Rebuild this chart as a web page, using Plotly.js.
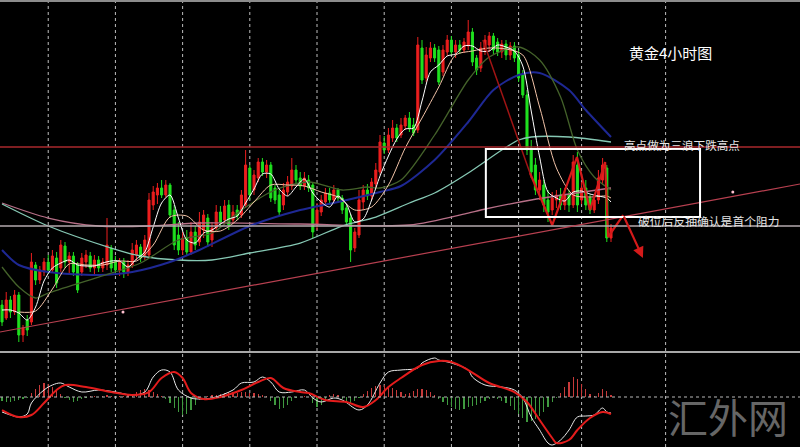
<!DOCTYPE html>
<html><head><meta charset="utf-8">
<script src="https://cdn.plot.ly/plotly-3.0.1.min.js"></script>
<style>html,body{margin:0;padding:0;background:#000;}#chart{width:800px;height:447px;}</style>
</head><body><div id="chart"></div>
<script>
// ---- candle data (price units, arbitrary offset) ----
const openP  = [45,32,50,38,55,15,30,28,85,70,78,88,80,92,82,104,88,94,85,78,88,94,82,90,82,85,102,88,80,88,78,85,95,103,94,95,145,155,162,155,165,140,115,100,112,98,118,108,120,132,110,122,138,130,145,130,140,135,145,182,160,172,188,178,185,162,155,145,158,164,180,172,164,170,165,125,138,148,157,150,160,152,142,132,102,115,148,160,154,166,178,207,200,212,222,215,224,232,225,220,302,272,292,302,300,278,298,310,298,305,300,304,318,292,282,300,305,314,308,298,306,295,304,295,275,255,202,185,160,165,150,140,150,155,145,155,145,185,150,162,152,140,150,170,182,112];
const highP  = [50,58,54,60,58,25,35,97,88,84,92,95,100,98,110,108,98,98,88,97,100,98,95,94,92,132,105,94,92,92,90,107,110,106,115,157,164,167,170,170,167,145,128,118,120,128,124,138,140,136,128,145,144,150,150,145,145,160,200,185,180,192,192,190,188,165,160,167,174,192,185,178,178,175,168,147,155,162,162,165,162,155,146,136,122,160,165,166,172,187,215,214,222,230,226,232,235,238,232,313,310,303,308,306,304,305,315,314,310,310,312,330,322,295,308,315,318,317,312,310,310,308,308,300,280,260,210,192,178,170,160,158,160,162,162,160,195,198,168,170,155,155,180,192,185,126];
const lowP   = [24,30,32,35,8,8,14,25,65,66,74,76,77,62,78,82,75,74,57,74,82,78,76,78,78,80,78,75,74,72,74,82,90,88,90,92,140,146,152,152,132,100,95,95,94,95,100,104,112,103,103,118,124,126,120,126,130,132,142,150,155,168,174,172,148,146,135,140,154,160,166,160,160,158,112,120,134,144,145,146,147,136,124,88,98,112,140,150,150,162,175,196,197,208,208,212,220,218,214,217,266,268,288,288,265,274,294,295,292,296,297,300,284,275,278,295,298,296,294,292,290,290,288,268,252,195,172,155,150,138,128,135,142,140,140,138,142,138,146,140,136,137,146,165,108,108];
const closeP = [28,50,38,55,15,22,20,88,70,80,88,80,94,67,105,88,94,78,60,92,95,82,90,82,88,105,82,80,88,78,85,100,105,92,110,150,158,162,155,165,135,105,100,112,98,118,105,128,135,108,122,138,128,144,125,138,134,155,185,155,175,188,178,185,152,150,138,160,168,180,170,164,172,162,118,140,150,157,150,160,152,140,128,100,118,150,160,154,168,180,208,200,215,222,212,225,232,222,217,305,270,295,302,292,268,300,310,298,305,300,308,318,288,280,302,310,314,300,298,306,295,304,292,272,255,200,178,160,170,145,138,152,155,145,155,145,188,145,162,145,140,150,172,185,112,122];

// ---- moving averages: [bar index, value] ----
const maWhiteIdx = [0,2,4,6,8,10,12,14,16,18,20,22,24,26,28,30,32,34,36,38,40,42,44,46,48,50,52,54,56,58,60,62,64,66,68,70,72,74,76,78,80,82,84,86,88,90,92,94,96,98,100,102,104,106,108,110,112,114,116,118,120,122,124,126,128,130,132,134,136,138,140,142,144,145];
const maWhiteVal = [40,40,37,30,43,69,82,87,90,85,84,84,87,89,89,83,91,98,123,147,155,132,110,107,117,120,126,131,134,147,161,176,176,161,154,163,171,157,148,143,154,146,128,131,150,174,194,211,221,222,249,278,285,294,296,304,304,299,299,305,303,299,284,239,193,158,152,149,158,159,156,154,152,148];
const maPeachIdx = [4,8,12,16,20,24,28,32,36,40,44,48,52,56,60,64,68,72,76,80,84,88,92,96,100,104,108,112,116,120,124,128,132,136,140,144,145];
const maPeachVal = [38,39,61,86,85,85,89,89,105,133,134,120,119,130,148,165,165,164,158,153,140,143,165,202,232,263,295,299,302,301,295,243,182,155,153,154,152];
const maOliveIdx = [0,4,8,11,23,33,42,50,57,65,73,81,87,90,95,103,111,116,123,128,133,137,141,145];
const maOliveVal = [83,63,52,57,73,87,110,117,140,160,168,160,163,162,170,215,270,293,303,290,253,200,173,160];
const maBlueIdx  = [0,4,11,23,31,40,47,59,71,80,90,95,103,111,117,123,128,135,139,145];
const maBlueVal  = [100,85,78,75,78,88,100,124,140,148,158,164,190,228,260,275,277,260,240,213];
const maTealIdx  = [0,11,26,33,42,50,59,71,81,89,97,103,111,119,123,126,135,145];
const maTealVal  = [146,124,102,94,90,90,97,107,124,133,147,157,177,200,210,213,213,208];
const maMauveIdx = [0,11,23,35,47,71,97,111,114,126,145];
const maMauveVal = [147,132,124,124,127,126,125,137,140,150,162];

// ---- MACD panel ----
const macdIdx = [0,2,4,6,7,10,12,14,16,19,23,27,31,34,36,38,40,42,45,47,50,55,57,60,62,64,66,69,72,74,76,79,81,85,87,90,92,95,99,100,103,104,107,111,112,115,119,122,124,126,128,130,131,133,135,137,139,141,143,144,145];
const macdVal = [-15,-18,-20,-17,-6,7,12,14,10,5,7,5,2,5,20,27,25,7,-1,-2,-1,7,14,15,20,15,5,5,7,-1,-5,-1,-3,-13,-8,14,25,27,29,34,39,37,34,27,20,12,10,7,-1,-20,-33,-46,-48,-43,-33,-20,-19,-18,-11,-15,-16];
const signalIdx = [0,4,7,10,13,15,20,26,31,35,38,41,43,45,48,52,57,61,64,67,71,73,77,82,86,89,92,95,100,104,107,111,116,122,125,128,131,132,135,137,140,143,145];
const signalVal = [-13,-20,-18,-6,7,12,10,5,2,5,19,25,19,4,-2,0,7,15,19,9,5,4,-3,-5,-10,-3,10,19,32,36,35,27,14,5,-5,-23,-41,-46,-43,-33,-21,-15,-17];
const histVal = [-4,-5,-5,-4,-3,-2,-1, 4,8,12,14,13,10,6,3, -1,-3,-5,-4,-2,-1, 1,1,0,1,2,1,0,1,1,2, 3,5,7,8,7,5,3, 1,-2,-6,-11,-15,-18,-17,-13,-8,-3, 0,1,2,2,3,4,5,5,4, 5,5,4,4,3,2,1, -4,-8,-12,-11,-8,-4, -1,0,1,0, -6,-10,-8,-4, 2,3,2, -2,-5,-6,-4,-1, 3,6,9,11,12,12,11,9,7,5, 3,4,6,8,8,7,5,2, -2,-5,-8,-10,-12,-13,-12,-10,-9,-8,-6,-4,-2, -1,-2,-4, -6,-9,-13,-17,-21,-25,-24,-22,-19,-15,-10,-5,-1, 4,10,15,20,18,13,8,3, 1,4,8,6,2];

// ---- drawn annotations (bar index / price) ----
const gridIdx = [11,27,43,59,75,91,107,123,138,158];
const resistLevel = 203;      // red horizontal line
const supportLevel = 124;     // grey horizontal line
const trendIdx = [-0.48,190], trendVal = [18,166];
const trendDotIdx = [28.8,174], trendDotVal = [38,158];
const boxIdx = [115.2,166.2], boxVal = [133,201];
const fallIdx = [114.5,125.7], fallVal = [310,177];
const zigIdx = [125.7,131,136.9,140,143.6,144.3,147.9], zigVal = [177,125,193,140,188,113,135];
const arrowEnd = [152.6,92];
const labelTitle = '黄金4小时图';
const labelHigh = '高点做为三浪下跌高点';
const labelBreak = '破位后反抽确认是首个阻力';
const watermark = '汇外网';

const idx = closeP.map((_, i) => i);
const RED = '#ec1e1e', GREEN = '#1fe01f';

function maLine(x, y, color, w) {
  return {type:'scatter', mode:'lines', x:x, y:y, line:{color:color, width:w, shape:'spline', smoothing:0.8}, hoverinfo:'skip'};
}

const traces = [
  maLine(maMauveIdx, maMauveVal, '#b87088', 1.3),
  maLine(maTealIdx, maTealVal, '#86c8b4', 1.3),
  maLine(maBlueIdx, maBlueVal, '#1e2894', 2),
  maLine(maOliveIdx, maOliveVal, '#44622a', 1.3),
  {type:'candlestick', x:idx, open:openP, high:highP, low:lowP, close:closeP,
   increasing:{line:{color:RED, width:1}, fillcolor:RED},
   decreasing:{line:{color:GREEN, width:1}, fillcolor:GREEN},
   whiskerwidth:0, hoverinfo:'skip'},
  maLine(maPeachIdx, maPeachVal, '#f2c3a8', 1),
  maLine(maWhiteIdx, maWhiteVal, '#ffffff', 1),
  {type:'scatter', mode:'lines', x:fallIdx, y:fallVal, line:{color:'#a01414', width:1.5}, hoverinfo:'skip'},
  {type:'scatter', mode:'lines', x:zigIdx, y:zigVal, line:{color:'#d41a1a', width:2.2}, hoverinfo:'skip'},
  {type:'scatter', mode:'markers', x:trendDotIdx, y:trendDotVal, marker:{color:'#ffc0d0', size:3}, hoverinfo:'skip'},
  {type:'bar', x:idx, y:histVal, yaxis:'y2', width:0.3,
   marker:{color:histVal.map(v => v >= 0 ? '#c83a3a' : '#3f9a3f'), line:{width:0}}, hoverinfo:'skip'},
  {type:'scatter', mode:'lines', x:macdIdx, y:macdVal, yaxis:'y2', line:{color:'#e8e8e8', width:1, shape:'spline'}, hoverinfo:'skip'},
  {type:'scatter', mode:'lines', x:signalIdx, y:signalVal, yaxis:'y2', line:{color:'#e41c1c', width:2, shape:'spline'}, hoverinfo:'skip'}
];

const shapes = [];
gridIdx.forEach(g => shapes.push({type:'line', xref:'x', yref:'paper', x0:g, x1:g, y0:0, y1:1,
  line:{color:'#bdbdbd', width:1, dash:'dot'}, layer:'below'}));
shapes.push({type:'line', xref:'paper', yref:'y', x0:0, x1:1, y0:resistLevel, y1:resistLevel, line:{color:'#a8282c', width:1.5}});
shapes.push({type:'line', xref:'paper', yref:'y', x0:0, x1:1, y0:supportLevel, y1:supportLevel, line:{color:'#b5aaae', width:1.5}});
shapes.push({type:'line', xref:'x', yref:'y', x0:trendIdx[0], x1:trendIdx[1], y0:trendVal[0], y1:trendVal[1], line:{color:'#b84050', width:1.2}});
shapes.push({type:'rect', xref:'x', yref:'y', x0:boxIdx[0], x1:boxIdx[1], y0:boxVal[0], y1:boxVal[1], line:{color:'#ffffff', width:2}});
shapes.push({type:'line', xref:'paper', yref:'paper', x0:0, x1:1, y0:0.998, y1:0.998, line:{color:'#8c8c8c', width:2}});
shapes.push({type:'line', xref:'paper', yref:'paper', x0:0, x1:1, y0:0.2125, y1:0.2125, line:{color:'#a8a8a8', width:2}});
shapes.push({type:'line', xref:'paper', yref:'y2', x0:0, x1:1, y0:0, y1:0, line:{color:'#b8b8b8', width:1, dash:'dot'}});

const FONT = '"Noto Sans CJK SC", "Noto Sans", sans-serif';
const annotations = [
  {xref:'x', yref:'y', x:148.8, y:298, text:labelTitle, showarrow:false, xanchor:'left', yanchor:'middle',
   font:{family:FONT, size:15, color:'#ffffff'}},
  {xref:'x', yref:'y', x:147.6, y:205, text:labelHigh, showarrow:false, xanchor:'left', yanchor:'middle',
   font:{family:FONT, size:11.6, color:'#e6e6e6'}},
  {xref:'x', yref:'y', x:151, y:130, text:labelBreak, showarrow:false, xanchor:'left', yanchor:'middle',
   font:{family:FONT, size:11.8, color:'#e6e6e6'}},
  {xref:'x', yref:'y', axref:'x', ayref:'y', x:arrowEnd[0], y:arrowEnd[1], ax:zigIdx[zigIdx.length-1], ay:zigVal[zigVal.length-1],
   text:'', showarrow:true, arrowhead:2, arrowsize:1, arrowwidth:2.2, arrowcolor:'#d41a1a'},
  {xref:'paper', yref:'paper', x:0.988, y:0.0, text:watermark, showarrow:false, xanchor:'right', yanchor:'bottom',
   font:{family:FONT, size:40, color:'#666666'}}
];

const layout = {
  width:800, height:447, margin:{l:0, r:0, t:0, b:0},
  paper_bgcolor:'#000', plot_bgcolor:'#000', showlegend:false, hovermode:false,
  xaxis:{range:[-0.48,190], visible:false, showgrid:false, zeroline:false, rangeslider:{visible:false}, fixedrange:true},
  yaxis:{domain:[0.2125,1], range:[-2,350], visible:false, showgrid:false, zeroline:false, fixedrange:true},
  yaxis2:{domain:[0,0.2125], range:[-50,45], visible:false, showgrid:false, zeroline:false, anchor:'x', fixedrange:true},
  shapes:shapes, annotations:annotations, bargap:0
};

Plotly.newPlot('chart', traces, layout, {staticPlot:true, displayModeBar:false});
</script>
</body></html>
